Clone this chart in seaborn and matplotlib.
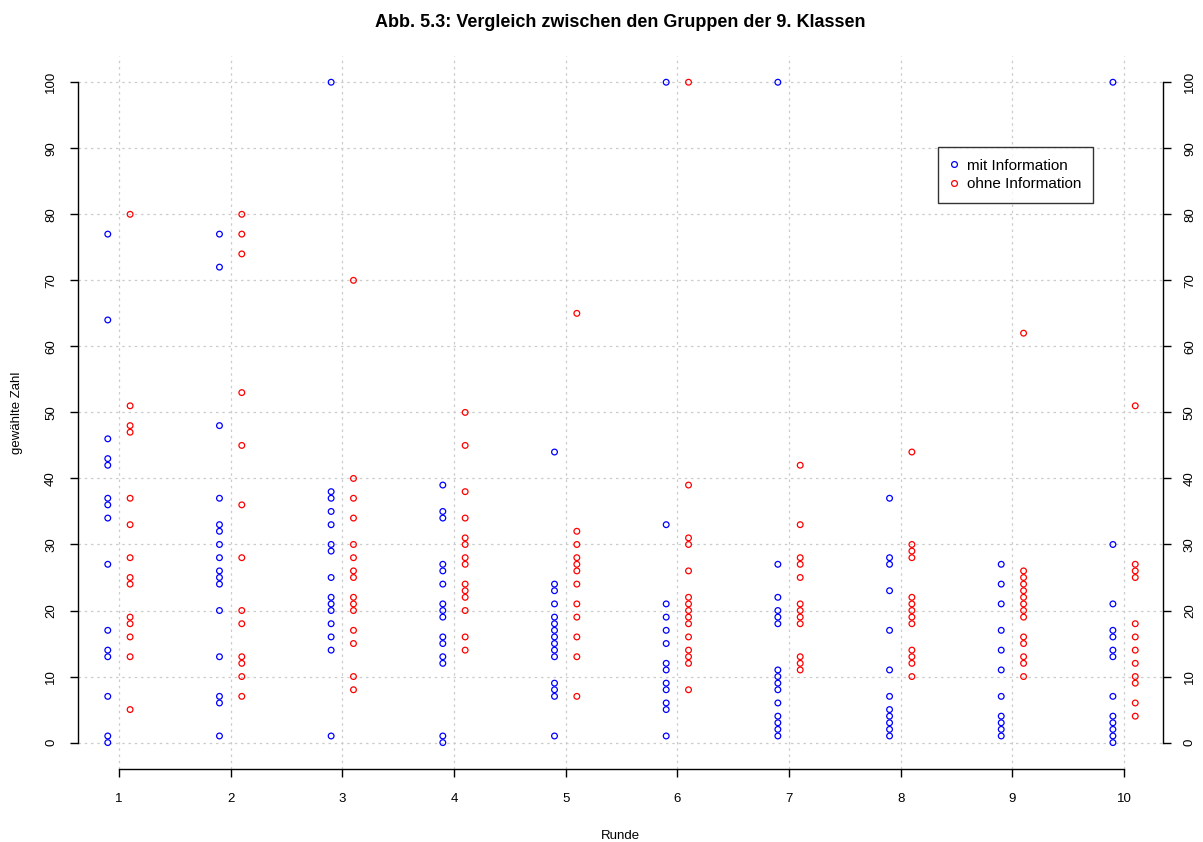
import pandas as pd
import seaborn as sns
import matplotlib.pyplot as plt

# Gewählte Zahlen pro Runde, Gruppe "mit Information"
mit_r1 = [77, 64, 46, 43, 42, 37, 36, 34, 27, 17, 14, 13, 7, 1, 0]
mit_r2 = [77, 72, 48, 37, 33, 32, 30, 28, 26, 25, 24, 20, 13, 7, 6, 1]
mit_r3 = [100, 38, 37, 35, 33, 30, 29, 25, 22, 21, 20, 18, 16, 14, 1]
mit_r4 = [39, 35, 34, 27, 26, 24, 21, 20, 19, 16, 15, 13, 12, 1, 0]
mit_r5 = [44, 24, 23, 21, 19, 18, 17, 16, 15, 14, 13, 9, 8, 7, 1]
mit_r6 = [100, 33, 21, 19, 17, 15, 12, 11, 9, 8, 6, 5, 1]
mit_r7 = [100, 27, 22, 20, 19, 18, 11, 10, 9, 8, 6, 4, 3, 2, 1]
mit_r8 = [37, 28, 27, 23, 17, 11, 7, 5, 4, 3, 2, 1]
mit_r9 = [27, 24, 21, 17, 14, 11, 7, 4, 3, 2, 1]
mit_r10 = [100, 30, 21, 17, 16, 14, 13, 7, 4, 3, 2, 1, 0]

# Gruppe "ohne Information"
ohne_r1 = [80, 51, 48, 47, 37, 33, 28, 25, 24, 19, 18, 16, 13, 5]
ohne_r2 = [80, 77, 74, 53, 45, 36, 28, 20, 18, 13, 12, 10, 7]
ohne_r3 = [70, 40, 37, 34, 30, 28, 26, 25, 22, 21, 20, 17, 15, 10, 8]
ohne_r4 = [50, 45, 38, 34, 31, 30, 28, 27, 24, 23, 22, 20, 16, 14]
ohne_r5 = [65, 32, 30, 28, 27, 26, 24, 21, 19, 16, 13, 7]
ohne_r6 = [100, 39, 31, 30, 26, 22, 21, 20, 19, 18, 16, 14, 13, 12, 8]
ohne_r7 = [42, 33, 28, 27, 25, 21, 20, 19, 18, 13, 12, 11]
ohne_r8 = [44, 30, 29, 28, 22, 21, 20, 19, 18, 14, 13, 12, 10]
ohne_r9 = [62, 26, 25, 24, 23, 22, 21, 20, 19, 16, 15, 13, 12, 10]
ohne_r10 = [51, 27, 26, 25, 18, 16, 14, 12, 10, 9, 6, 4]

mit = [mit_r1, mit_r2, mit_r3, mit_r4, mit_r5, mit_r6, mit_r7, mit_r8, mit_r9, mit_r10]
ohne = [ohne_r1, ohne_r2, ohne_r3, ohne_r4, ohne_r5, ohne_r6, ohne_r7, ohne_r8, ohne_r9, ohne_r10]
runden = list(range(1, 11))

rows = []
for r, werte in zip(runden, mit):
    for w in werte:
        rows.append({"x": r - 0.1, "Zahl": w, "Gruppe": "mit Information"})
for r, werte in zip(runden, ohne):
    for w in werte:
        rows.append({"x": r + 0.1, "Zahl": w, "Gruppe": "ohne Information"})
df = pd.DataFrame(rows)

sns.set_style("white")
plt.rcParams['font.family'] = ['Liberation Sans', 'DejaVu Sans']
plt.rcParams['text.color'] = 'black'
plt.rcParams['axes.labelcolor'] = 'black'
plt.rcParams['xtick.color'] = 'black'
plt.rcParams['ytick.color'] = 'black'

fig = plt.figure(figsize=(12.03, 8.42), dpi=100)
ax = fig.add_axes([0.0648, 0.0867, 0.902, 0.847])

# Gitterlinien
for r in runden:
    ax.axvline(r, color='#cccccc', ls=(0, (2, 3)), lw=0.9, zorder=0)
for y in range(0, 101, 10):
    ax.axhline(y, color='#cccccc', ls=(0, (2, 3)), lw=0.9, zorder=0)

sns.scatterplot(data=df, x="x", y="Zahl", hue="Gruppe",
                palette={"mit Information": "#0000FF", "ohne Information": "#FF0000"},
                marker="o", s=17, linewidth=0.9, ax=ax, legend=False)
# offene Kreise wie in R (pch = 1)
for coll in ax.collections:
    ec = coll.get_facecolors()
    coll.set_edgecolors(ec)
    coll.set_facecolors("none")

ax.set_xlim(0.633, 10.349)
ax.set_ylim(-4, 104)

ax.spines['top'].set_visible(False)
ax.spines['left'].set_bounds(0, 100)
ax.spines['right'].set_bounds(0, 100)
ax.spines['bottom'].set_bounds(1, 10)
for s in ['left', 'right', 'bottom']:
    ax.spines[s].set_color('black')
    ax.spines[s].set_linewidth(1.0)

ax.set_xticks(runden)
ax.set_yticks(range(0, 101, 10))
ax.tick_params(axis='both', direction='out', length=6, width=1, color='black',
               labelcolor='black', labelsize=9.5, pad=8)
ax.tick_params(axis='y', left=True, right=True, labelleft=True, labelright=True,
               labelrotation=90, pad=9)
for lab in ax.get_yticklabels():
    lab.set_va('center')
ax.tick_params(axis='x', bottom=True, pad=11)

ax.set_xlabel("Runde", fontsize=9.5, labelpad=18)
ax.set_ylabel("gewählte Zahl", fontsize=9.5, labelpad=16)
ax.set_title("Abb. 5.3: Vergleich zwischen den Gruppen der 9. Klassen",
             fontsize=13, fontweight='bold', pad=21)

handles = [
    plt.Line2D([], [], ls='none', marker='o', markersize=4.2, markerfacecolor='none',
               markeredgecolor='#0000FF', markeredgewidth=0.9, label='mit Information'),
    plt.Line2D([], [], ls='none', marker='o', markersize=4.2, markerfacecolor='none',
               markeredgecolor='#FF0000', markeredgewidth=0.9, label='ohne Information'),
]
leg = ax.legend(handles=handles, loc='upper left', bbox_to_anchor=(0.793, 0.872),
                fontsize=11, frameon=True, fancybox=False, edgecolor='black',
                handlelength=0.5, handletextpad=0.6, labelspacing=0.3,
                borderpad=0.75, borderaxespad=0)
leg.get_frame().set_linewidth(1.0)

fig.savefig("out.png", dpi=100)
